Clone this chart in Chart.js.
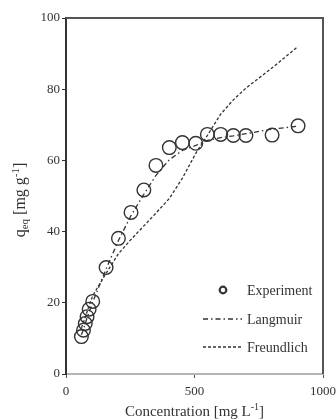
<!DOCTYPE html>
<html lang="en">
<head>
    <meta charset="UTF-8">
    <title>Isotherm</title>
    <style>
        body {
            margin: 0;
            background: #ffffff;
        }
        #wrap {
            width: 336px;
            height: 419px;
        }
    </style>
</head>
<body>
<div id="wrap">
    <canvas id="isoChart" width="336" height="419"></canvas>
</div>

<script src="https://cdn.jsdelivr.net/npm/chart.js"></script>
<script>
    // Experimental equilibrium concentrations [mg/L] and uptake [mg/g]
    const conc = [60, 68, 75, 82, 90, 104, 156, 204, 253, 303, 350, 402, 453, 505, 550, 602, 651, 700, 802, 903];
    const qExp = [10.5, 12.3, 14.2, 16.1, 18.2, 20.4, 29.9, 38.1, 45.4, 51.7, 58.6, 63.6, 65.0, 64.8, 67.3, 67.3, 67.0, 67.0, 67.1, 69.7];
    // model curves at the same concentrations
    const qLangmuir = [11.0, 12.6, 14.2, 15.8, 17.4, 20.2, 29.5, 37.5, 44.5, 50.5, 55.8, 60.2, 62.8, 64.2, 65.6, 66.4, 66.9, 67.5, 68.8, 69.6];
    const qFreundlich = [13.0, 14.5, 16.0, 17.5, 19.2, 22.0, 28.3, 33.8, 37.8, 41.6, 45.2, 49.3, 55.0, 62.0, 67.0, 73.0, 77.0, 80.3, 86.0, 92.0];
    const xTicks = [0, 500, 1000];
    const yTicks = [0, 20, 40, 60, 80, 100];

    const ink = '#333333';
    const serif = "'Liberation Serif', 'Times New Roman', serif";

    const toXY = (xs, ys) => xs.map((x, i) => ({ x: x, y: ys[i] }));

    // frame, axis titles with sub/superscripts, and the inside legend
    const extrasPlugin = {
        id: 'extras',
        afterDraw(chart) {
            const ctx = chart.ctx;
            const a = chart.chartArea;
            ctx.save();

            // top and right border of the plot box
            ctx.strokeStyle = '#555555';
            ctx.lineWidth = 2;
            ctx.beginPath();
            ctx.moveTo(a.left, a.top);
            ctx.lineTo(a.right, a.top);
            ctx.lineTo(a.right, a.bottom);
            ctx.stroke();

            ctx.fillStyle = ink;
            ctx.textBaseline = 'alphabetic';

            // x title: Concentration [mg L-1]
            const big = '15px ' + serif;
            const small = '10px ' + serif;
            const xParts = [['Concentration [mg L', big, 0], ['-1', small, -6], [']', big, 0]];
            let w = 0;
            xParts.forEach(p => { ctx.font = p[1]; w += ctx.measureText(p[0]).width; });
            let cx = (a.left + a.right) / 2 - w / 2;
            xParts.forEach(p => {
                ctx.font = p[1];
                ctx.fillText(p[0], cx, 416 + p[2]);
                cx += ctx.measureText(p[0]).width;
            });

            // y title: q_eq [mg g-1], rotated
            const yBig = '16px ' + serif;
            const ySmall = '11px ' + serif;
            const yParts = [['q', yBig, 0], ['eq', ySmall, 3], [' [mg g', yBig, 0], ['-1', ySmall, -6], [']', yBig, 0]];
            w = 0;
            yParts.forEach(p => { ctx.font = p[1]; w += ctx.measureText(p[0]).width; });
            ctx.translate(25, 200);
            ctx.rotate(-Math.PI / 2);
            cx = -w / 2;
            yParts.forEach(p => {
                ctx.font = p[1];
                ctx.fillText(p[0], cx, p[2]);
                cx += ctx.measureText(p[0]).width;
            });
            ctx.setTransform(1, 0, 0, 1, 0, 0);

            // legend inside the plot
            const ds = chart.data.datasets;
            const rows = [290, 319, 347];
            ctx.font = '14px ' + serif;
            ctx.textBaseline = 'middle';
            ds.forEach((d, i) => {
                const y = rows[i];
                ctx.strokeStyle = ink;
                if (d.showLine) {
                    ctx.lineWidth = 1.4;
                    ctx.setLineDash(d.borderDash);
                    ctx.beginPath();
                    ctx.moveTo(203, y);
                    ctx.lineTo(242, y);
                    ctx.stroke();
                    ctx.setLineDash([]);
                } else {
                    ctx.lineWidth = 2.2;
                    ctx.beginPath();
                    ctx.arc(223, y, 3.3, 0, Math.PI * 2);
                    ctx.stroke();
                }
                ctx.fillStyle = ink;
                ctx.fillText(d.label, 247, y + 1);
            });
            ctx.restore();
        }
    };

    const ctx = document.getElementById('isoChart').getContext('2d');
    const isoChart = new Chart(ctx, {
        type: 'scatter',
        data: {
            datasets: [
                {
                    label: 'Experiment',
                    data: toXY(conc, qExp),
                    pointRadius: 6.8,
                    pointHoverRadius: 6.8,
                    pointBorderWidth: 1.4,
                    pointBorderColor: ink,
                    pointBackgroundColor: 'rgba(0,0,0,0)',
                    showLine: false,
                    order: 0
                },
                {
                    label: 'Langmuir',
                    data: toXY(conc, qLangmuir),
                    showLine: true,
                    pointRadius: 0,
                    borderColor: ink,
                    borderWidth: 1.3,
                    borderDash: [5, 3, 1.5, 3],
                    order: 1
                },
                {
                    label: 'Freundlich',
                    data: toXY(conc, qFreundlich),
                    showLine: true,
                    pointRadius: 0,
                    borderColor: ink,
                    borderWidth: 1.3,
                    borderDash: [3, 2],
                    order: 2
                }
            ]
        },
        options: {
            responsive: false,
            animation: false,
            layout: {
                padding: { left: 0, right: 13, top: 18, bottom: 0 }
            },
            plugins: {
                legend: { display: false },
                tooltip: { enabled: false }
            },
            scales: {
                x: {
                    type: 'linear',
                    min: 0,
                    max: 1000,
                    afterFit: s => { s.height = 45; s.paddingLeft = 0; s.paddingRight = 0; },
                    afterBuildTicks: s => { s.ticks = xTicks.map(v => ({ value: v })); },
                    border: { display: true, color: '#b5b5b5', width: 2 },
                    grid: { drawOnChartArea: false, drawTicks: true, tickLength: 4, color: '#555555' },
                    ticks: {
                        color: ink,
                        font: { family: serif, size: 13 },
                        padding: 6,
                        maxRotation: 0,
                        callback: v => String(v)
                    }
                },
                y: {
                    type: 'linear',
                    min: 0,
                    max: 100,
                    afterFit: s => { s.width = 66; s.paddingTop = 0; s.paddingBottom = 0; },
                    afterBuildTicks: s => { s.ticks = yTicks.map(v => ({ value: v })); },
                    border: { display: true, color: '#333333', width: 2 },
                    grid: { drawOnChartArea: false, drawTicks: true, tickLength: 4, color: '#333333' },
                    ticks: { color: ink, font: { family: serif, size: 13 }, padding: 2, callback: v => String(v) }
                }
            }
        },
        plugins: [extrasPlugin]
    });
</script>
</body>
</html>
